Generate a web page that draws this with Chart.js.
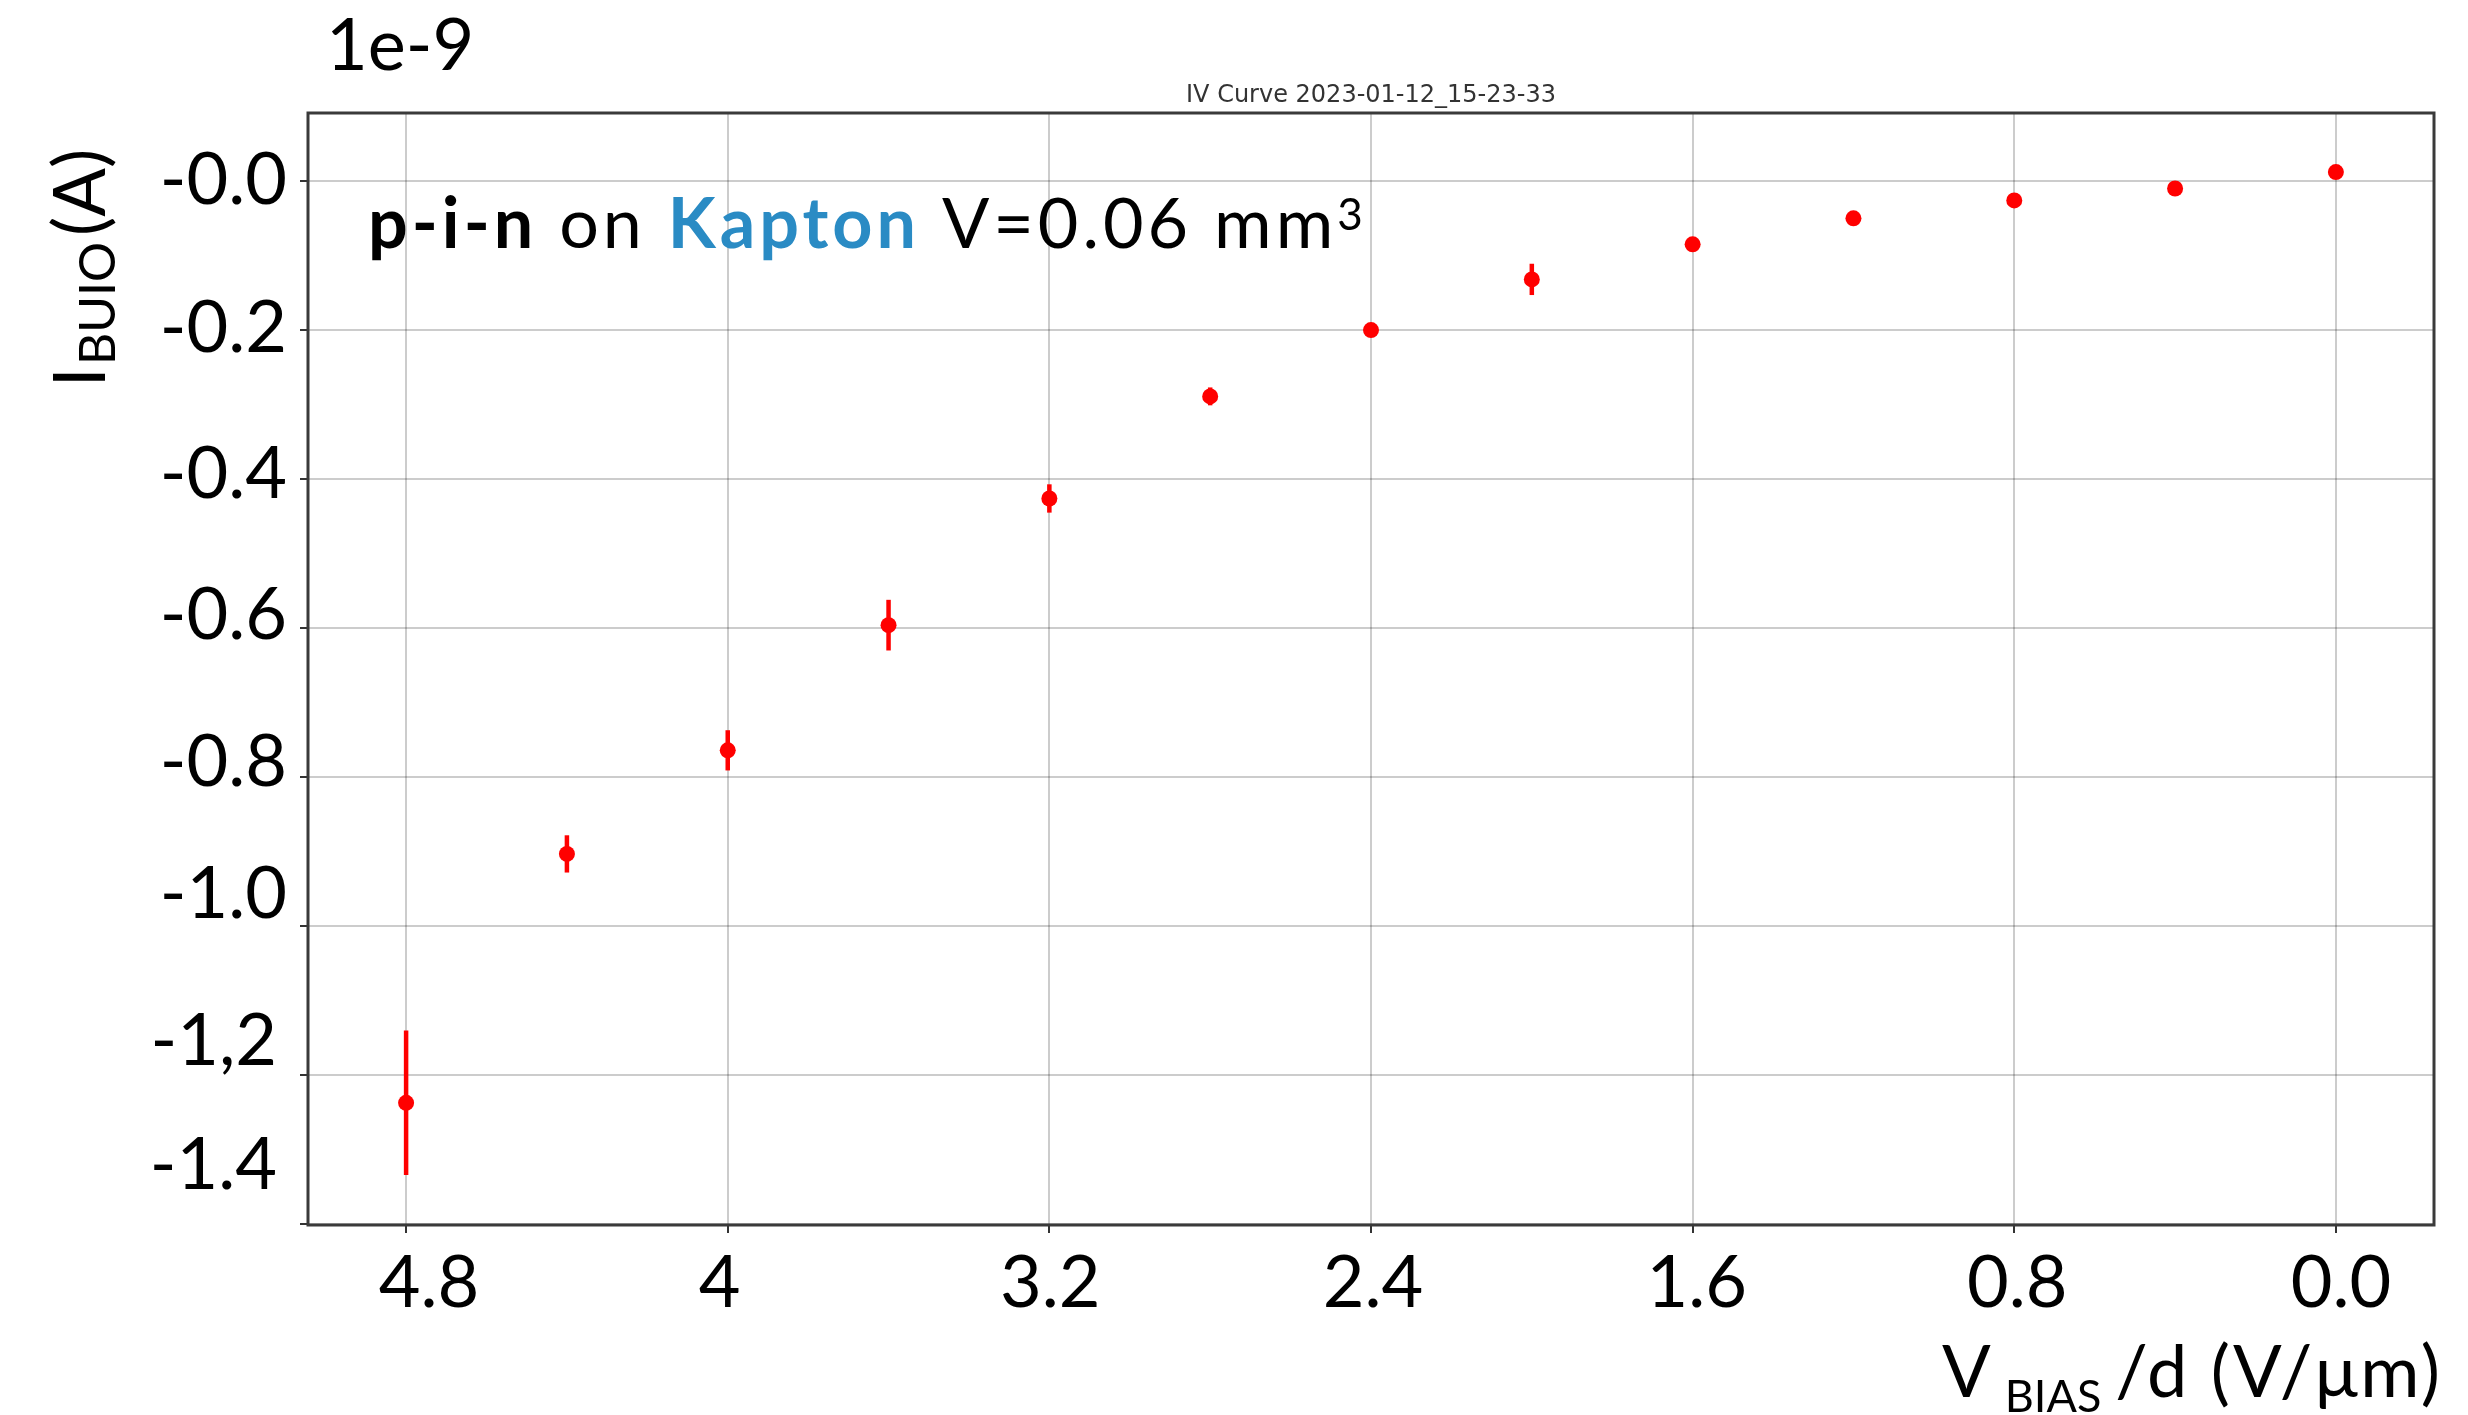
<!DOCTYPE html>
<html>
<head>
<meta charset="utf-8">
<title>IV Curve</title>
<script src="https://cdn.jsdelivr.net/npm/chart.js@4.4.1/dist/chart.umd.min.js"></script>
<style>
  html, body { margin: 0; padding: 0; background: #fff; }
  #wrap { width: 2468px; height: 1415px; }
</style>
</head>
<body>
<div id="wrap"><canvas id="ivChart" width="2468" height="1415"></canvas></div>
<script>
// bias field V/d (V/um) and dark current in units of 1e-9 A
const biasField = [4.8, 4.4, 4.0, 3.6, 3.2, 2.8, 2.4, 2.0, 1.6, 1.2, 0.8, 0.4, 0.0];
const darkCurrent = [-1.237, -0.903, -0.764, -0.596, -0.426, -0.289, -0.200, -0.132, -0.085, -0.050, -0.026, -0.010, 0.012];
const currentErr = [0.097, 0.025, 0.027, 0.034, 0.019, 0.012, 0.005, 0.021, 0.005, 0.005, 0.005, 0.005, 0.005];

const xTickValues = [4.8, 4.0, 3.2, 2.4, 1.6, 0.8, 0.0];
const xTickLabels = ["4.8", "4", "3.2", "2.4", "1.6", "0.8", "0.0"];
const yTickValues = [0, -0.2, -0.4, -0.6, -0.8, -1.0, -1.2, -1.4];
const yTickLabels = ["-0.0", "-0.2", "-0.4", "-0.6", "-0.8", "-1.0", "-1,2", "-1.4"];

// hand placed label tweaks (px)
const yLabelLift = [0, -1, -4, -12, -14, -31, -33, -58];
const yLabelRight = [287, 287, 287, 287, 287, 287, 277, 277];
const xLabelShift = [23, -8, 1, 2, 4, 3, 5];

const FONT = "Lato, 'Open Sans', sans-serif";
const RED = "#ff0000";

function drawRuns(ctx, x, y, runs) {
    ctx.textAlign = "left";
    ctx.textBaseline = "alphabetic";
    runs.forEach(r => {
        ctx.font = r.font;
        ctx.letterSpacing = (r.spacing || 0) + "px";
        ctx.fillStyle = r.color || "#000";
        ctx.fillText(r.text, x, y + (r.dy || 0));
        x += ctx.measureText(r.text).width + (r.gap || 0);
    });
    ctx.letterSpacing = "0px";
    return x;
}

function runsWidth(ctx, runs) {
    let w = 0;
    runs.forEach(r => {
        ctx.font = r.font;
        ctx.letterSpacing = (r.spacing || 0) + "px";
        w += ctx.measureText(r.text).width + (r.gap || 0);
    });
    ctx.letterSpacing = "0px";
    return w;
}

const decorations = {
    id: "decorations",
    beforeDraw(chart) {
        const ctx = chart.ctx;
        ctx.save();
        ctx.fillStyle = "#fff";
        ctx.fillRect(0, 0, chart.width, chart.height);
        ctx.restore();
    },
    beforeDatasetsDraw(chart) {
        // vertical error bars under the markers
        const { ctx, scales: { x, y } } = chart;
        ctx.save();
        ctx.strokeStyle = RED;
        ctx.lineWidth = 4.5;
        biasField.forEach((v, i) => {
            const px = x.getPixelForValue(v);
            ctx.beginPath();
            ctx.moveTo(px, y.getPixelForValue(darkCurrent[i] + currentErr[i]));
            ctx.lineTo(px, y.getPixelForValue(darkCurrent[i] - currentErr[i]));
            ctx.stroke();
        });
        ctx.restore();
    },
    afterDraw(chart) {
        const { ctx, chartArea: a, scales: { x, y } } = chart;
        ctx.save();

        // box around the axes
        ctx.strokeStyle = "#3a3a3a";
        ctx.lineWidth = 3;
        ctx.strokeRect(a.left, a.top, a.right - a.left, a.bottom - a.top);

        // tick labels
        ctx.fillStyle = "#000";
        ctx.font = "72px " + FONT;
        ctx.textBaseline = "middle";
        ctx.textAlign = "right";
        yTickValues.forEach((v, i) => {
            ctx.fillText(yTickLabels[i], yLabelRight[i], y.getPixelForValue(v) + yLabelLift[i]);
        });
        ctx.textAlign = "center";
        ctx.textBaseline = "alphabetic";
        xTickValues.forEach((v, i) => {
            ctx.fillText(xTickLabels[i], x.getPixelForValue(v) + xLabelShift[i], 1307);
        });

        // offset text
        drawRuns(ctx, 326, 70, [{ text: "1e-9", font: "72px " + FONT }]);

        // small run title
        ctx.font = "24px 'DejaVu Sans', sans-serif";
        ctx.fillStyle = "#333";
        ctx.textAlign = "center";
        ctx.fillText("IV Curve 2023-01-12_15-23-33", (a.left + a.right) / 2, 102);

        // sample note
        drawRuns(ctx, 368, 248, [
            { text: "p-i-n", font: "bold 70px " + FONT, spacing: 4 },
            { text: " on ", font: "70px " + FONT, spacing: 4 },
            { text: "Kapton", font: "bold 70px " + FONT, color: "#2a8bc4", spacing: 4 },
            { text: " V=0.06 mm", font: "70px " + FONT, spacing: 4 },
            { text: "3", font: "44px " + FONT, dy: -18 }
        ]);

        // x axis title
        drawRuns(ctx, 1942, 1397, [
            { text: "V", font: "72px " + FONT, gap: 14 },
            { text: "BIAS", font: "45px " + FONT, dy: 15, gap: 14 },
            { text: "/d (V/\u03bcm)", font: "72px " + FONT, spacing: 2.5 }
        ]);

        // y axis title, rotated
        const yRuns = [
            { text: "I", font: "72px " + FONT, gap: 2 },
            { text: "BUIO", font: "50px " + FONT, dy: 10, gap: 6 },
            { text: "(A)", font: "72px " + FONT }
        ];
        const w = runsWidth(ctx, yRuns);
        ctx.translate(105, 268 + w / 2);
        ctx.rotate(-Math.PI / 2);
        drawRuns(ctx, 0, 0, yRuns);

        ctx.restore();
    }
};

const gridStyle = {
    color: "rgba(0,0,0,0.2)",
    lineWidth: 2,
    tickLength: 8,
    tickColor: "#333",
    tickWidth: 2
};

new Chart(document.getElementById("ivChart"), {
    type: "scatter",
    data: {
        datasets: [{
            label: "I dark",
            data: biasField.map((v, i) => ({ x: v, y: darkCurrent[i] })),
            backgroundColor: RED,
            borderWidth: 0,
            pointRadius: 8,
            pointHoverRadius: 8
        }]
    },
    options: {
        responsive: false,
        animation: false,
        devicePixelRatio: 1,
        layout: { padding: { left: 288, top: 113, right: 34, bottom: 170 } },
        plugins: {
            legend: { display: false },
            tooltip: { enabled: false },
            title: { display: false }
        },
        scales: {
            x: {
                type: "linear",
                reverse: true,
                min: -0.244,
                max: 5.044,
                afterBuildTicks: s => { s.ticks = xTickValues.map(v => ({ value: v })); },
                afterFit: s => { s.height = 20; },
                ticks: { display: false },
                grid: gridStyle,
                border: { display: false }
            },
            y: {
                type: "linear",
                min: -1.401,
                max: 0.0913,
                afterBuildTicks: s => { s.ticks = yTickValues.map(v => ({ value: v })); },
                afterFit: s => { s.width = 20; },
                ticks: { display: false },
                grid: gridStyle,
                border: { display: false }
            }
        }
    },
    plugins: [decorations]
});
</script>
</body>
</html>
